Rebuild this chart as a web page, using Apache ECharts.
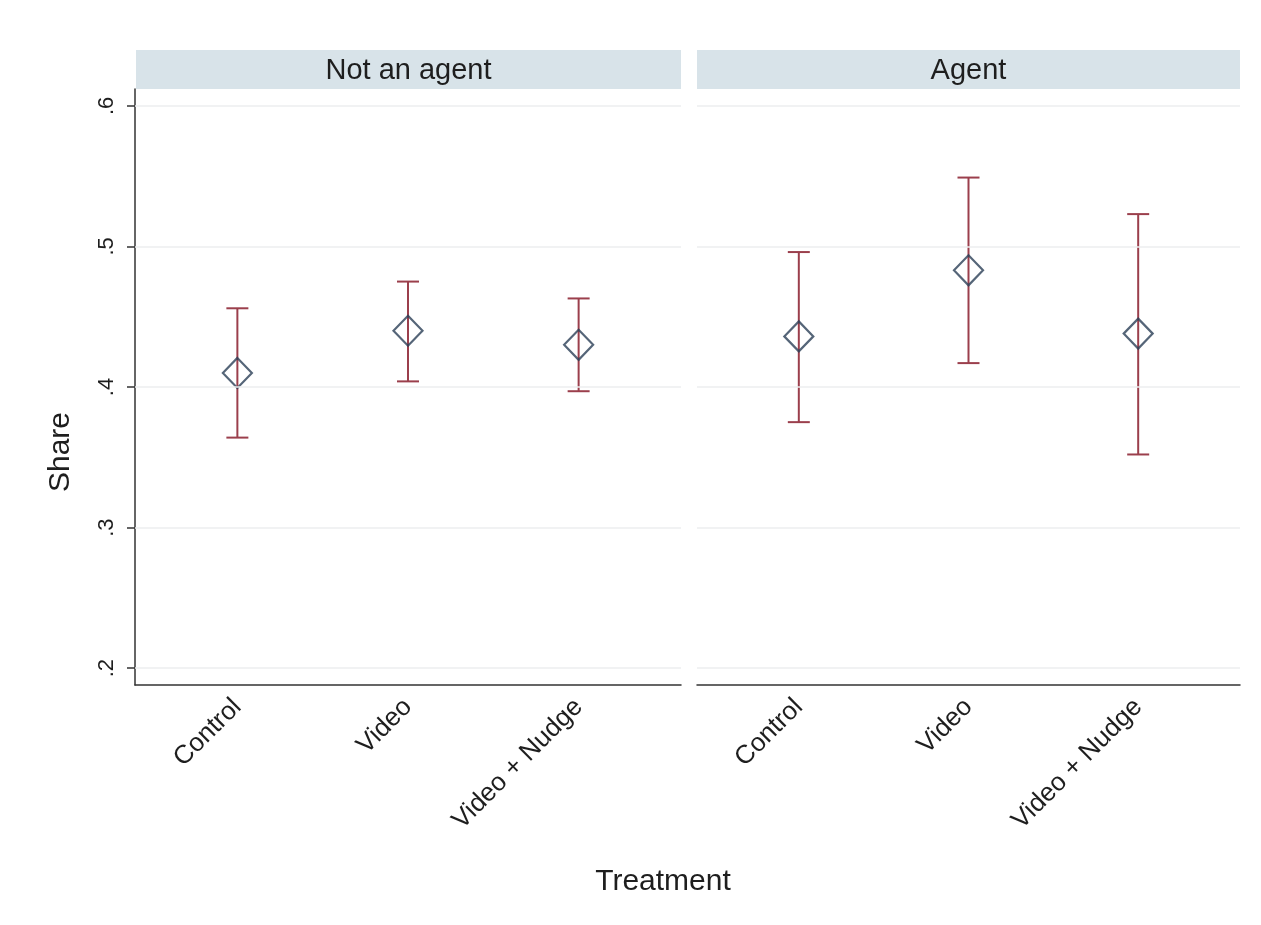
<!DOCTYPE html>
<html>
<head>
<meta charset="utf-8">
<script src="https://cdn.jsdelivr.net/npm/echarts@6/dist/echarts.min.js"></script>
<style>html,body{margin:0;padding:0;background:#fff;}#c{width:1261px;height:925px;}</style>
</head>
<body>
<div id="c"></div>
<script>
const categories = ['Control', 'Video', 'Video + Nudge'];
const panels = ['Not an agent', 'Agent'];
const xPos = [1, 2, 3];
const notAgentMean = [0.410, 0.440, 0.430];
const notAgentLow = [0.364, 0.404, 0.397];
const notAgentHigh = [0.456, 0.475, 0.463];
const agentMean = [0.436, 0.483, 0.438];
const agentLow = [0.375, 0.417, 0.352];
const agentHigh = [0.496, 0.549, 0.523];
const yTicks = [0.2, 0.3, 0.4, 0.5, 0.6];

const FONT = "'Liberation Sans', Arial, sans-serif";
const barColor = '#9b3f4c';
const diamondColor = '#2a3f56';
const gridColor = '#eceeef';
const textColor = '#1e1e1e';

const chart = echarts.init(document.getElementById('c'));

const grids = [
  {left: 135, right: 580, top: 89, bottom: 240},
  {left: 697, right: 21, top: 89, bottom: 240}
];

function xAxisFor(i) {
  return {
    type: 'value', gridIndex: i, min: 0.4, max: 3.6,
    axisLine: {show: true, onZero: false, lineStyle: {color: '#333', width: 1.5}},
    axisTick: {show: false},
    splitLine: {show: false},
    axisLabel: {
      customValues: xPos, rotate: 45, fontSize: 26, color: textColor, fontFamily: FONT, margin: 18,
      formatter: v => categories[Math.round(v) - 1]
    }
  };
}
function yAxisFor(i) {
  return {
    type: 'value', gridIndex: i, min: 0.188, max: 0.612,
    axisLine: {show: i === 0, lineStyle: {color: '#333', width: 1.5}},
    axisTick: {show: i === 0, customValues: yTicks, length: 8, lineStyle: {color: '#333', width: 1.5}},
    splitLine: {show: false},
    axisLabel: {
      show: i === 0, customValues: yTicks, rotate: 90, fontSize: 22, color: textColor, fontFamily: FONT, margin: 17,
      formatter: v => v.toFixed(1).replace(/^0/, '')
    }
  };
}

function errSeries(i, lows, highs) {
  return {
    type: 'custom', xAxisIndex: i, yAxisIndex: i, z: 3,
    data: xPos.map((x, k) => [x, lows[k], highs[k]]),
    markLine: {
      silent: true, symbol: 'none', label: {show: false},
      lineStyle: {color: gridColor, width: 1.5, type: 'solid'},
      data: yTicks.map(t => ({yAxis: t}))
    },
    renderItem: function (params, api) {
      const lo = api.coord([api.value(0), api.value(1)]);
      const hi = api.coord([api.value(0), api.value(2)]);
      const w = 11;
      const st = {stroke: barColor, lineWidth: 2};
      return {
        type: 'group',
        children: [
          {type: 'line', shape: {x1: lo[0], y1: lo[1], x2: hi[0], y2: hi[1]}, style: st},
          {type: 'line', shape: {x1: lo[0] - w, y1: lo[1], x2: lo[0] + w, y2: lo[1]}, style: st},
          {type: 'line', shape: {x1: hi[0] - w, y1: hi[1], x2: hi[0] + w, y2: hi[1]}, style: st}
        ]
      };
    }
  };
}
function pointSeries(i, means) {
  return {
    type: 'scatter', xAxisIndex: i, yAxisIndex: i, z: 4,
    symbol: 'diamond', symbolSize: [29, 30],
    itemStyle: {color: 'rgba(255,255,255,0)', borderColor: diamondColor, borderWidth: 2.2},
    data: xPos.map((x, k) => [x, means[k]])
  };
}

const option = {
  backgroundColor: '#fff',
  animation: false,
  grid: grids,
  xAxis: [xAxisFor(0), xAxisFor(1)],
  yAxis: [yAxisFor(0), yAxisFor(1)],
  graphic: [
    {type: 'rect', shape: {x: 136, y: 50, width: 545, height: 39}, style: {fill: '#d8e3e9'}},
    {type: 'rect', shape: {x: 697, y: 50, width: 543, height: 39}, style: {fill: '#d8e3e9'}},
    {type: 'text', x: 136 + 545 / 2, y: 71, style: {text: panels[0], fill: textColor, font: '29px ' + FONT, textAlign: 'center', textVerticalAlign: 'middle'}},
    {type: 'text', x: 697 + 543 / 2, y: 71, style: {text: panels[1], fill: textColor, font: '29px ' + FONT, textAlign: 'center', textVerticalAlign: 'middle'}},
    {type: 'text', x: 663, y: 882, style: {text: 'Treatment', fill: textColor, font: '30px ' + FONT, textAlign: 'center', textVerticalAlign: 'middle'}},
    {type: 'text', x: 61, y: 452, rotation: Math.PI / 2, style: {text: 'Share', fill: textColor, font: '30px ' + FONT, textAlign: 'center', textVerticalAlign: 'middle'}}
  ],
  series: [
    errSeries(0, notAgentLow, notAgentHigh),
    pointSeries(0, notAgentMean),
    errSeries(1, agentLow, agentHigh),
    pointSeries(1, agentMean)
  ]
};
chart.setOption(option);
</script>
</body>
</html>
